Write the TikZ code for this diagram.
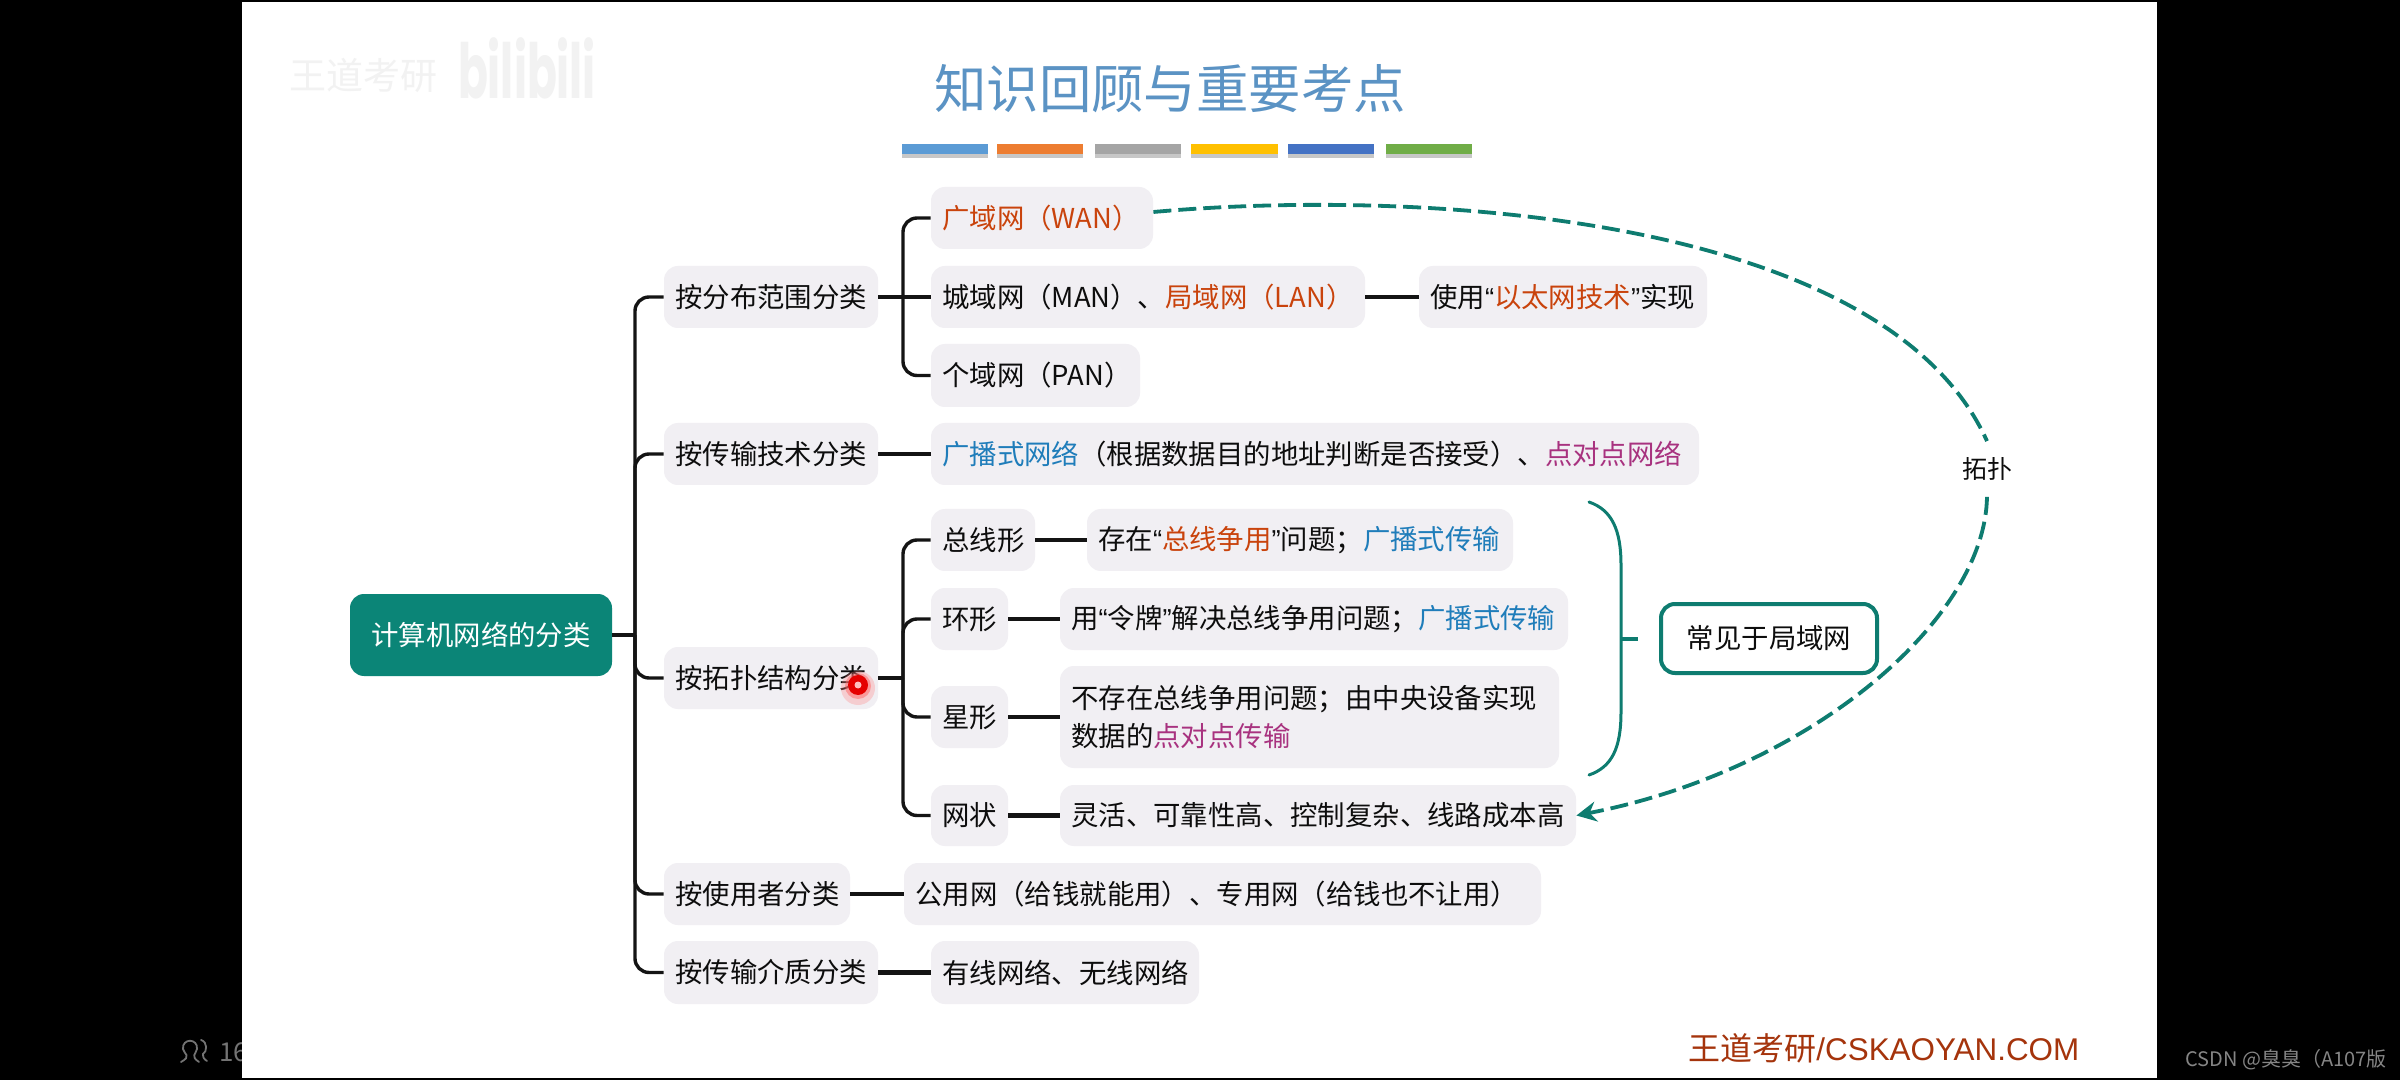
\documentclass[tikz,border=0pt]{standalone}
\usepackage{fontspec}
\usepackage{graphicx}
\setmainfont{Noto Sans CJK SC}
\newfontfamily\qtfont{Liberation Sans}
\newfontfamily\wmfont{Poppins}
\usetikzlibrary{arrows.meta,calc}
\definecolor{pillbg}{HTML}{F1EFF3}
\definecolor{teal1}{HTML}{0B8577}
\definecolor{teal2}{HTML}{0E7C70}
\definecolor{hred}{HTML}{C9430C}
\definecolor{hblue}{HTML}{1F7DBA}
\definecolor{hmag}{HTML}{A8327F}
\definecolor{titleblue}{HTML}{5B93C4}
\definecolor{logored}{HTML}{A5340C}
\definecolor{barA}{HTML}{5B9BD5}
\definecolor{barB}{HTML}{ED7D31}
\definecolor{barC}{HTML}{A5A5A5}
\definecolor{barD}{HTML}{FFC000}
\definecolor{barE}{HTML}{4472C4}
\definecolor{barF}{HTML}{70AD47}
\newcommand\rd[1]{\textcolor{hred}{#1}}
\newcommand\bl[1]{\textcolor{hblue}{#1}}
\newcommand\mg[1]{\textcolor{hmag}{#1}}
\newcommand\lqq{{\qtfont “}}
\newcommand\rqq{{\qtfont ”}}
\tikzset{
  pill/.style={fill=pillbg,rounded corners=7pt,inner xsep=5.6pt,inner ysep=0pt,align=left,text=black!95,
    font=\fontsize{13.7}{19}\selectfont},
  conn/.style={draw=black!92,line width=2.1pt},
  trunk/.style={draw=black!92,line width=1.7pt,rounded corners=7pt},
  tealline/.style={draw=teal2,line width=1.5pt},
}
\newcommand\pill[6]{%
  \pgfmathsetlengthmacro\pw{(#3-#2)*0.5}%
  \pgfmathsetlengthmacro\ph{(#5-#4)*0.5}%
  \pgfmathsetlengthmacro\tw{\pw-11.2}%
  \node[pill,minimum width=\pw,minimum height=\ph,text width=\tw] (#1) at ({(#2+#3)/2},{(#4+#5)/2}) {#6};}
\newcommand\cbar[3]{%
  \fill[black!22] (#1,150) rectangle (#2,158);
  \fill[#3] (#1,144) rectangle (#2,154);}
\begin{document}
\begin{tikzpicture}[x=0.5pt,y=-0.5pt]
\useasboundingbox (0,0) rectangle (2400,1080);
\fill[black] (0,0) rectangle (2400,1080);
% outside the slide
\node[anchor=west,inner sep=0pt,text=black!55,font=\fontsize{13}{15}\selectfont] (count) at (219,1052) {16};
\draw[black!55,line width=0.9pt,line cap=round] (181,1062) .. controls (192,1056) and (184,1054) .. (183,1049) .. controls (182,1038) and (198,1038) .. (197,1049) .. controls (196,1054) and (190,1056) .. (199,1062);
\draw[black!55,line width=0.9pt,line cap=round] (201,1040) .. controls (208,1042) and (207,1052) .. (203,1054) .. controls (203,1058) and (204,1059) .. (207,1061);
\node[anchor=west,inner sep=0pt,text=black!48,font=\fontsize{10}{12}\selectfont] (csdn) at (2185,1060) {CSDN @臭臭（A107版};
% slide
\fill[white] (242,2) rectangle (2157,1078);
\node[inner sep=0pt,text=black!5,font=\fontsize{18.5}{20}\selectfont] (wmA) at (363,75) {王道考研};
\node[inner sep=0pt,text=black!5,font=\wmfont\bfseries\fontsize{38}{40}\selectfont] (wmB) at (527,68) {\scalebox{.58}[1]{bilibili}};
% title and bars
\node[inner sep=0pt,text=titleblue,font=\fontsize{26.2}{30}\selectfont] (title) at (1170,89) {知识回顾与重要考点};
\cbar{902}{988}{barA}
\cbar{997}{1083}{barB}
\cbar{1095}{1181}{barC}
\cbar{1191}{1278}{barD}
\cbar{1288}{1374}{barE}
\cbar{1386}{1472}{barF}
% root
\node[fill=teal1,rounded corners=7pt,text=white,inner sep=0pt,minimum width=131pt,minimum height=41pt,font=\fontsize{13.7}{19}\selectfont] (root) at (481,635) {计算机网络的分类};
% level 1
\pill{range}{664}{878}{266}{328}{按分布范围分类}
\pill{tech}{664}{878}{423}{485}{按传输技术分类}
\pill{topo}{664}{878}{647}{709}{按拓扑结构分类}
\pill{user}{664}{850}{863}{925}{按使用者分类}
\pill{medium}{664}{878}{941}{1004}{按传输介质分类}
% level 2
\pill{wan}{931}{1153}{187}{249}{\rd{广域网（WAN）}}
\pill{man}{931}{1365}{266}{328}{城域网（MAN）、\rd{局域网（LAN）}}
\pill{eth}{1419}{1707}{266}{328}{使用\lqq\rd{以太网技术}\rqq 实现}
\pill{pan}{931}{1140}{344}{407}{个域网（PAN）}
\pill{cast}{931}{1699}{423}{485}{\bl{广播式网络}（根据数据目的地址判断是否接受）、\mg{点对点网络}}
\pill{bus}{931}{1035}{509}{571}{总线形}
\pill{busd}{1087}{1513}{509}{571}{存在\lqq\rd{总线争用}\rqq 问题；\bl{广播式传输}}
\pill{ring}{931}{1008}{588}{650}{环形}
\pill{ringd}{1060}{1568}{588}{650}{用\lqq 令牌\rqq 解决总线争用问题；\bl{广播式传输}}
\pill{star}{931}{1008}{686}{748}{星形}
\pill{stard}{1060}{1559}{666}{768}{不存在总线争用问题；由中央设备实现\\数据的\mg{点对点传输}}
\pill{mesh}{931}{1008}{785}{846}{网状}
\pill{meshd}{1060}{1576}{785}{846}{灵活、可靠性高、控制复杂、线路成本高}
\pill{pub}{904}{1541}{863}{925}{公用网（给钱就能用）、专用网（给钱也不让用）}
\pill{wired}{931}{1199}{941}{1004}{有线网络、无线网络}
% junctions
\coordinate (jroot) at (635,635);
\coordinate (jrange) at (903,297);
\coordinate (jtopo) at (903,678);
% connectors
\draw[conn] (root.east) -- (jroot);
\draw[trunk] (jroot) |- (range.west);
\draw[trunk] (jroot) |- (tech.west);
\draw[trunk] (jroot) |- (topo.west);
\draw[trunk] (jroot) |- (user.west);
\draw[trunk] (jroot) |- (medium.west);
\draw[conn] (range.east) -- (man.west);
\draw[trunk] (jrange) |- (wan.west);
\draw[trunk] (jrange) |- (pan.west);
\draw[conn] (man.east) -- (eth.west);
\draw[conn] (tech.east) -- (cast.west);
\draw[conn] (topo.east) -- (jtopo);
\draw[trunk] (jtopo) |- (bus.west);
\draw[trunk] (jtopo) |- (ring.west);
\draw[trunk] (jtopo) |- (star.west);
\draw[trunk] (jtopo) |- (mesh.west);
\draw[conn] (bus.east) -- (busd.west);
\draw[conn] (ring.east) -- (ringd.west);
\draw[conn] (star.east) -- (stard.west);
\draw[conn] (mesh.east) -- (meshd.west);
\draw[conn] (user.east) -- (pub.west);
\draw[conn] (medium.east) -- (wired.west);
% common-in-LAN box and brace
\node[draw=teal2,line width=2pt,fill=white,rounded corners=7pt,inner sep=0pt,minimum width=108pt,minimum height=34.5pt,text=black!95,font=\fontsize{13.7}{19}\selectfont] (lan) at (1769,638.5) {常见于局域网};
\coordinate (bracetop) at (1589,502);
\coordinate (bracebot) at (1589,775);
\coordinate (bracetip) at (1621,638.5);
\draw[tealline,line cap=round] (bracetop) .. controls (1612,510) and (1621,530) .. (1621,565) -- (1621,712) .. controls (1621,748) and (1612,767) .. (bracebot);
\draw[draw=teal2,line width=2pt] (bracetip) -- ($(lan.west)+(-21,0)$);
% dashed topology arc
\node[inner xsep=3pt,inner ysep=8pt,text=black!95,font=\fontsize{12.5}{15}\selectfont] (topolabel) at (1987,469) {拓扑};
\coordinate (arcstart) at ($(wan.east)+(0,-6)$);
\draw[draw=teal2,line width=1.9pt,dash pattern=on 9pt off 3.5pt,-{Stealth[length=10pt,width=10pt]}]
  (arcstart) .. controls (1420,188) and (1885,215) .. (topolabel.north) (topolabel.south) .. controls (1985,620) and (1810,770) .. (meshd.east);
% pointer
\fill[red!50,opacity=.3] (858,688) circle[radius=17];
\fill[red!60,opacity=.5] (858,686) circle[radius=13];
\fill[red!90!black] (858,685) circle[radius=10];
\fill[red!25] (858,685) circle[radius=3.5];
% logo
\node[anchor=west,inner sep=0pt,text=logored] (logo) at (1688,1048) {\fontsize{16}{18}\selectfont 王道考研{\qtfont\fontsize{15.7}{18}\selectfont /CSKAOYAN.COM}};
\end{tikzpicture}
\end{document}
